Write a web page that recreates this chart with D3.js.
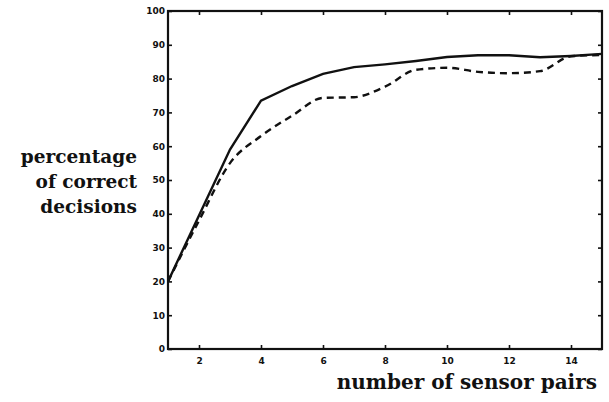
<!DOCTYPE html>
<html>
<head>
<meta charset="utf-8">
<script src="https://cdn.jsdelivr.net/npm/d3@7"></script>
<style>
  html, body { margin: 0; padding: 0; background: #fff; }
  svg { display: block; }
  .tick text { font-family: "DejaVu Sans", sans-serif; font-weight: bold; font-size: 9px; fill: #111; }
  .label { font-family: "DejaVu Serif", serif; font-weight: bold; fill: #111; }
</style>
</head>
<body>
<svg id="chart" width="609" height="402"></svg>
<script>
// Sensor pairs used and the share of correct decisions for the two methods
const sensorPairs = [1, 2, 3, 4, 5, 6, 7, 8, 9, 10, 11, 12, 13, 14, 15];
const solidSeries = [20, 39.5, 59, 73.5, 77.8, 81.4, 83.4, 84.2, 85.2, 86.4, 86.9, 86.9, 86.3, 86.7, 87.3];
const dashedSeries = [20, 38, 55, 63, 69, 74.3, 74.5, 77.6, 82.6, 83.2, 82, 81.6, 82.2, 86.6, 87];
const xTicks = [2, 4, 6, 8, 10, 12, 14];
const yTicks = [0, 10, 20, 30, 40, 50, 60, 70, 80, 90, 100];
const yLabelLines = ["percentage", "of correct", "decisions"];
const xLabel = "number of sensor pairs";

const svg = d3.select("#chart");
const plot = { left: 168, right: 602, top: 11, bottom: 349 };

const x = d3.scaleLinear().domain([1, 15]).range([plot.left, plot.right]);
const y = d3.scaleLinear().domain([0, 100]).range([plot.bottom, plot.top]);

// Frame
svg.append("rect")
  .attr("x", plot.left).attr("y", plot.top)
  .attr("width", plot.right - plot.left).attr("height", plot.bottom - plot.top)
  .attr("fill", "none").attr("stroke", "#111").attr("stroke-width", 2.2);

// Axes with inward ticks
const tickLen = 4;
const styleAxis = g => {
  g.select(".domain").remove();
  g.selectAll(".tick line").attr("stroke", "#111").attr("stroke-width", 1.6);
};
svg.append("g").attr("transform", `translate(0,${plot.bottom})`)
  .call(d3.axisBottom(x).tickValues(xTicks).tickSizeInner(-tickLen).tickSizeOuter(0).tickPadding(9))
  .call(styleAxis);
svg.append("g").attr("transform", `translate(0,${plot.top})`)
  .call(d3.axisTop(x).tickValues(xTicks).tickSizeInner(-tickLen).tickSizeOuter(0).tickFormat(""))
  .call(styleAxis);
svg.append("g").attr("transform", `translate(${plot.left},0)`)
  .call(d3.axisLeft(y).tickValues(yTicks).tickSizeInner(-tickLen).tickSizeOuter(0).tickPadding(3))
  .call(styleAxis);
svg.append("g").attr("transform", `translate(${plot.right},0)`)
  .call(d3.axisRight(y).tickValues(yTicks).tickSizeInner(-tickLen).tickSizeOuter(0).tickFormat(""))
  .call(styleAxis);

// Curves
const solidLine = d3.line()
  .x((d, i) => x(sensorPairs[i])).y(d => y(d));
const dashedLine = d3.line()
  .x((d, i) => x(sensorPairs[i])).y(d => y(d))
  .curve(d3.curveMonotoneX);

svg.append("path").datum(solidSeries)
  .attr("d", solidLine)
  .attr("fill", "none").attr("stroke", "#111").attr("stroke-width", 2.4);
svg.append("path").datum(dashedSeries)
  .attr("d", dashedLine)
  .attr("fill", "none").attr("stroke", "#111").attr("stroke-width", 2.4)
  .attr("stroke-dasharray", "7,5");

// Axis titles
const yl = svg.append("text").attr("class", "label").attr("text-anchor", "end")
  .style("font-size", "18.5px");
yLabelLines.forEach((t, i) => {
  yl.append("tspan").attr("x", 137).attr("y", 163 + i * 25).text(t);
});
svg.append("text").attr("class", "label").style("font-size", "20px")
  .attr("text-anchor", "end").attr("x", 597).attr("y", 389)
  .text(xLabel);
</script>
</body>
</html>
